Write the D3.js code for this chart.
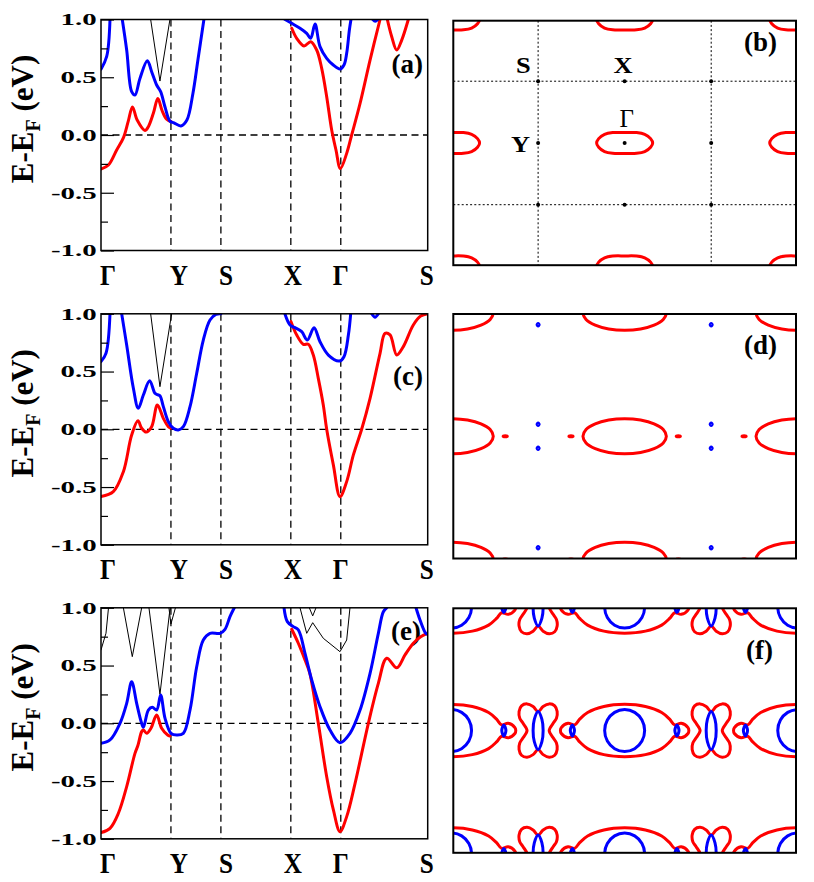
<!DOCTYPE html>
<html><head><meta charset="utf-8">
<script src="https://cdn.jsdelivr.net/npm/d3@7"></script>
<style>body{margin:0;background:#fff}svg{display:block}</style>
</head><body><svg id="c" width="814" height="882"></svg>
<script>
// ---------- DATA ----------
const kTicks = [0, 0.7, 1.2, 1.9, 2.4, 3.27];
const kLabels = ["Γ","Y","S","X","Γ","S"];
const eTicks = [-1, -0.5, 0, 0.5, 1];
const eTickLabels = ["-1.0","-0.5","0.0","0.5","1.0"];
const eMinor = [-0.75, -0.25, 0.25, 0.75];

// panel (a)
const redA1 = [[0,-0.295],[0.075,-0.26],[0.157,-0.13],[0.226,-0.02],[0.273,0.12],[0.315,0.243],[0.362,0.13],[0.44,0.04],[0.474,0.072],[0.524,0.188],[0.569,0.316],[0.612,0.21],[0.657,0.136],[0.70,0.117]];
const blueA1a = [[0,0.57],[0.057,0.68],[0.09,1.0]];
const blueA1b = [[0.213,1.0],[0.257,0.736],[0.307,0.375],[0.34,0.346],[0.39,0.49],[0.464,0.643],[0.507,0.548],[0.557,0.433],[0.597,0.375],[0.64,0.245],[0.69,0.12],[0.73,0.105],[0.80,0.078],[0.86,0.13],[0.92,0.36],[0.97,0.65],[1.03,1.0]];
const blackA1 = [[0.497,1.0],[0.59,0.467],[0.69,1.0]];
const blueA2 = [[1.842,1.0],[1.909,0.967],[1.992,0.924],[2.059,0.88],[2.099,0.837],[2.142,0.961],[2.192,0.765],[2.259,0.664],[2.325,0.606],[2.392,0.571],[2.432,0.606],[2.459,0.707],[2.486,0.909],[2.502,1.0]];
const blueA3 = [[2.72,1.0],[2.745,0.985],[2.77,1.0]];
const redA2 = [[1.909,0.924],[1.959,0.837],[2.032,0.771],[2.099,0.808],[2.159,0.736],[2.209,0.577],[2.259,0.332],[2.309,0.043],[2.352,-0.13],[2.396,-0.29],[2.459,-0.159],[2.509,0.0],[2.593,0.274],[2.693,0.649],[2.793,1.0]];
const redA3 = [[2.866,1.0],[2.91,0.851],[2.96,0.736],[3.01,0.822],[3.076,1.0]];

// panel (c)
const redC1 = [[0,-0.583],[0.123,-0.54],[0.224,-0.367],[0.307,-0.05],[0.37,0.073],[0.407,0.009],[0.452,-0.024],[0.507,0.023],[0.564,0.21],[0.624,0.095],[0.674,0.023],[0.70,0.009]];
const blueC1a = [[0,0.586],[0.05,0.658],[0.09,1.0]];
const blueC1b = [[0.207,1.0],[0.257,0.73],[0.324,0.355],[0.373,0.182],[0.424,0.297],[0.487,0.42],[0.54,0.312],[0.565,0.30],[0.59,0.29],[0.624,0.196],[0.674,0.066],[0.724,0.009],[0.774,-0.006],[0.824,0.023],[0.891,0.196],[0.958,0.485],[1.024,0.773],[1.091,0.946],[1.15,0.995],[1.2,1.0]];
const blackC1 = [[0.497,1.0],[0.59,0.369],[0.707,1.0]];
const blueC2 = [[1.842,0.996],[1.892,0.903],[1.942,0.88],[2.009,0.845],[2.065,0.773],[2.132,0.88],[2.192,0.758],[2.276,0.643],[2.386,0.591],[2.432,0.629],[2.476,0.816],[2.499,1.0]];
const blueC3 = [[2.71,1.0],[2.743,0.97],[2.776,1.0]];
const redC2 = [[1.902,0.932],[1.959,0.816],[2.025,0.736],[2.075,0.736],[2.125,0.643],[2.175,0.441],[2.225,0.21],[2.259,0.0],[2.326,-0.31],[2.392,-0.583],[2.459,-0.453],[2.526,-0.222],[2.609,0.0],[2.693,0.268],[2.793,0.658],[2.843,0.831],[2.893,0.817],[2.96,0.644],[3.026,0.716],[3.126,0.903],[3.2,0.98],[3.27,1.0]];

// panel (e)
const redE1 = [[0,-0.947],[0.09,-0.909],[0.174,-0.779],[0.257,-0.548],[0.34,-0.26],[0.37,-0.19],[0.407,-0.072],[0.424,-0.058],[0.457,-0.087],[0.50,-0.043],[0.557,0.072],[0.607,-0.043],[0.667,-0.101],[0.69,-0.11]];
const blueE1 = [[0,-0.173],[0.09,-0.144],[0.19,0.0],[0.257,0.173],[0.307,0.36],[0.357,0.173],[0.40,0.02],[0.424,-0.035],[0.474,0.115],[0.514,0.139],[0.557,0.115],[0.597,0.245],[0.641,0.043],[0.701,-0.087],[0.758,-0.101],[0.824,-0.087],[0.891,0.115],[0.958,0.49],[1.024,0.721],[1.091,0.779],[1.191,0.779],[1.241,0.814],[1.291,0.923],[1.334,1.0]];
const blackE1 = [[0,0.635],[0.05,0.78],[0.075,1.0]];
const blackE2 = [[0.224,1.0],[0.313,0.577],[0.407,1.0]];
const blackE3 = [[0.48,1.0],[0.59,0.25],[0.685,0.95],[0.695,1.0]];
const blackE4 = [[0.68,1.0],[0.70,0.86],[0.745,1.0]];
const blueE2 = [[1.832,1.0],[1.865,0.88],[1.925,0.837],[1.975,0.808],[2.042,0.606],[2.109,0.375],[2.192,0.144],[2.292,-0.058],[2.392,-0.168],[2.492,-0.087],[2.593,0.115],[2.693,0.433],[2.776,0.779],[2.826,0.966],[2.86,1.0]];
const blueE3 = [[3.153,1.0],[3.193,0.894],[3.25,0.779],[3.27,0.77]];
const redE2 = [[1.909,0.814],[1.975,0.693],[2.042,0.548],[2.09,0.433],[2.175,0.0],[2.259,-0.462],[2.326,-0.75],[2.392,-0.938],[2.459,-0.808],[2.543,-0.52],[2.676,0.0],[2.776,0.346],[2.86,0.563],[2.96,0.48],[3.043,0.592],[3.126,0.693],[3.2,0.75],[3.27,0.779]];
const blackE5 = [[1.992,1.0],[2.059,0.779],[2.119,0.871],[2.225,0.736],[2.392,0.62],[2.459,0.721],[2.492,1.0]];
const blackE6 = [[2.085,1.0],[2.119,0.93],[2.152,1.0]];

// Fermi-surface panels: k in units where Γ=(0,0), Y=(±0.5,0), X=(0,±0.5)
const kDomain = [-0.99, 0.99];
const latticeShifts = [-1, 0, 1];
const bzLines = [-0.5, 0.5];
const bzPoints = [[-0.5,0.5],[0,0.5],[0.5,0.5],[-0.5,0],[0,0],[0.5,0],[-0.5,-0.5],[0,-0.5],[0.5,-0.5]];
const bzLabels = ["S","X","Γ","Y"];
const bzLabelAt = [[-0.5,0.5],[0,0.5],[0,0],[-0.5,0]];
// first-quadrant contour points (mirrored by symmetry)
const fsB_red = [[0.162,0],[0.150,0.035],[0.116,0.070],[0.069,0.084],[0,0.085]];
const fsD_red = [[0.241,0],[0.223,0.054],[0.170,0.100],[0.092,0.131],[0,0.142]];
const fsD_redPocket = [[0.012,0],[0,0.005]];
const fsD_bluePocket = [[0.006,0],[0,0.01]];
const fsF_blueCircle = [[0.1155,0],[0.100,0.085],[0.058,0.147],[0,0.170]];
const fsF_red = [[0.371,0],[0.366,0.024],[0.327,0.059],[0.289,0.046],[0.260,0.092],[0.214,0.146],[0.120,0.195],[0,0.212]];
const fsF_blueOval = [[0.012,0],[0,0.045]];
const fsF_butterfly = [[0.064,0],[0.087,0.059],[0.106,0.100],[0.110,0.154],[0.096,0.200],[0.064,0.216],[0.029,0.195],[0,0.154]];
const fsF_lens = [[0.029,0],[0.022,0.09],[0,0.154]];
// centers relative to each Γ lattice point
const atGamma = [[0,0]];
const redPocketD_at = [[0.31,0],[-0.31,0]];
const bluePocketD_at = [[0.5,0.097],[0.5,-0.097]];
const ovalF_at = [[0.302,0],[-0.302,0]];
const atY = [[0.5,0]];

// ---------- DRAW ----------
const RED = "#ff0000", BLUE = "#0000ff";
const SERIF = "'Liberation Serif','Times New Roman',Times,serif";
const svg = d3.select("#c");

const bandsA = [
  {p:redA1,c:RED,w:3},{p:redA2,c:RED,w:3},{p:redA3,c:RED,w:3},
  {p:blackA1,c:"#000",w:1,lin:true},
  {p:blueA1a,c:BLUE,w:3},{p:blueA1b,c:BLUE,w:3},{p:blueA2,c:BLUE,w:3},{p:blueA3,c:BLUE,w:3}];
const bandsC = [
  {p:redC1,c:RED,w:3},{p:redC2,c:RED,w:3},
  {p:blackC1,c:"#000",w:1,lin:true},
  {p:blueC1a,c:BLUE,w:3},{p:blueC1b,c:BLUE,w:3},{p:blueC2,c:BLUE,w:3},{p:blueC3,c:BLUE,w:3}];
const bandsE = [
  {p:blackE1,c:"#000",w:1,lin:true},{p:blackE2,c:"#000",w:1,lin:true},{p:blackE3,c:"#000",w:1,lin:true},
  {p:blackE4,c:"#000",w:1,lin:true},{p:blackE5,c:"#000",w:1,lin:true},{p:blackE6,c:"#000",w:1,lin:true},
  {p:redE1,c:RED,w:3},{p:redE2,c:RED,w:3},
  {p:blueE1,c:BLUE,w:3},{p:blueE2,c:BLUE,w:3},{p:blueE3,c:BLUE,w:3}];

const leftPanels = [
  {top:19.5, bands:bandsA, label:"(a)", lx:423, ly:73},
  {top:313.8, bands:bandsC, label:"(c)", lx:423, ly:385},
  {top:607.8, bands:bandsE, label:"(e)", lx:421, ly:640}];
const LX0 = 101, LX1 = 427.7, LH = 231;
const labelDx = [7, 8, 5, 2, 0, -1];

leftPanels.forEach((P, i) => {
  const x = d3.scaleLinear().domain([kTicks[0], kTicks[kTicks.length-1]]).range([LX0, LX1]);
  const y = d3.scaleLinear().domain([-1, 1]).range([P.top + LH, P.top]);
  const g = svg.append("g");
  const cid = "clipL" + i;
  svg.append("clipPath").attr("id", cid).append("rect")
    .attr("x", LX0).attr("y", P.top).attr("width", LX1 - LX0).attr("height", LH);
  const dg = g.append("g").attr("clip-path", `url(#${cid})`);
  kTicks.slice(1, -1).forEach(k => {
    dg.append("line").attr("x1", x(k)).attr("x2", x(k)).attr("y1", P.top).attr("y2", P.top + LH)
      .attr("stroke", "#000").attr("stroke-width", 1.3).attr("stroke-dasharray", "7,4.5");
  });
  dg.append("line").attr("x1", LX0).attr("x2", LX1).attr("y1", y(0)).attr("y2", y(0))
    .attr("stroke", "#000").attr("stroke-width", 1.3).attr("stroke-dasharray", "7,4.5");
  g.append("text").attr("x", P.lx).attr("y", P.ly).attr("text-anchor", "end")
    .attr("font-family", SERIF).attr("font-weight", "bold").attr("font-size", 27).text(P.label);
  const bg = g.append("g").attr("clip-path", `url(#${cid})`);
  P.bands.forEach(b => {
    const line = d3.line().x(d => x(d[0])).y(d => y(d[1]))
      .curve(b.lin ? d3.curveLinear : d3.curveCatmullRom.alpha(0.5));
    bg.append("path").attr("d", line(b.p)).attr("fill", "none").attr("stroke", b.c)
      .attr("stroke-width", b.w).attr("stroke-linejoin", "round").attr("stroke-linecap", "round");
  });
  g.append("rect").attr("x", LX0).attr("y", P.top).attr("width", LX1 - LX0).attr("height", LH)
    .attr("fill", "none").attr("stroke", "#000").attr("stroke-width", 1.5);
  const ax = g.append("g").attr("transform", `translate(${LX0},0)`)
    .call(d3.axisLeft(y).tickValues(eTicks).tickSizeInner(-13).tickSizeOuter(0).tickPadding(4.3)
      .tickFormat((d, j) => eTickLabels[j]));
  ax.select(".domain").remove();
  ax.selectAll("line").attr("stroke-width", 1.2);
  ax.selectAll("text").attr("font-family", SERIF).attr("font-weight", "bold").attr("font-size", 17)
    .attr("x", -4.3 / 1.7).attr("transform", "scale(1.7,1)").attr("fill", "#000");
  const axm = g.append("g").attr("transform", `translate(${LX0},0)`)
    .call(d3.axisLeft(y).tickValues(eMinor).tickSizeInner(-7).tickSizeOuter(0).tickFormat(""));
  axm.select(".domain").remove();
  axm.selectAll("line").attr("stroke-width", 1.2);
  kTicks.forEach((k, j) => {
    g.append("text").attr("transform", `translate(${x(k) + labelDx[j]},${P.top + LH + 34}) scale(0.84,1)`)
      .attr("text-anchor", "middle").attr("font-family", SERIF).attr("font-weight", "bold")
      .attr("font-size", 30).text(kLabels[j]);
  });
  const t = g.append("text").attr("transform", `translate(33,${P.top + LH / 2 - 16}) rotate(-90)`)
    .attr("text-anchor", "middle").attr("font-family", SERIF).attr("font-weight", "bold").attr("font-size", 31);
  t.append("tspan").text("E-E");
  t.append("tspan").attr("font-size", 20).attr("dy", 7).text("F");
  t.append("tspan").attr("dy", -7).text("\u00A0(eV)");
});

// ---- right panels ----
function closeShape(q) {
  const pts = [];
  q.forEach(p => pts.push([p[0], p[1]]));
  q.slice(0, -1).reverse().forEach(p => pts.push([-p[0], p[1]]));
  q.slice(1).forEach(p => pts.push([-p[0], -p[1]]));
  q.slice(1, -1).reverse().forEach(p => pts.push([p[0], -p[1]]));
  return pts;
}
const shapesB = [{q:fsB_red, at:atGamma, c:RED}];
const shapesD = [{q:fsD_red, at:atGamma, c:RED}, {q:fsD_redPocket, at:redPocketD_at, c:RED},
                 {q:fsD_bluePocket, at:bluePocketD_at, c:BLUE}];
const shapesF = [{q:fsF_red, at:atGamma, c:RED}, {q:fsF_butterfly, at:atY, c:RED},
                 {q:fsF_blueCircle, at:atGamma, c:BLUE}, {q:fsF_blueOval, at:ovalF_at, c:BLUE},
                 {q:fsF_lens, at:atY, c:BLUE}];
const rightPanels = [
  {top:20.7, shapes:shapesB, label:"(b)", lx:777, ly:51, bz:true},
  {top:314, shapes:shapesD, label:"(d)", lx:777, ly:354},
  {top:608.3, shapes:shapesF, label:"(f)", lx:773, ly:659}];
const RX0 = 453.3, RX1 = 796, RH = 244.5;

rightPanels.forEach((P, i) => {
  const x = d3.scaleLinear().domain(kDomain).range([RX0, RX1]);
  const y = d3.scaleLinear().domain(kDomain).range([P.top + RH, P.top]);
  const g = svg.append("g");
  const cid = "clipR" + i;
  svg.append("clipPath").attr("id", cid).append("rect")
    .attr("x", RX0).attr("y", P.top).attr("width", RX1 - RX0).attr("height", RH);
  const cg = g.append("g").attr("clip-path", `url(#${cid})`);
  if (P.bz) {
    bzLines.forEach(v => {
      cg.append("line").attr("x1", x(v)).attr("x2", x(v)).attr("y1", P.top).attr("y2", P.top + RH)
        .attr("stroke", "#000").attr("stroke-width", 1).attr("stroke-dasharray", "2,2.2");
      cg.append("line").attr("x1", RX0).attr("x2", RX1).attr("y1", y(v)).attr("y2", y(v))
        .attr("stroke", "#000").attr("stroke-width", 1).attr("stroke-dasharray", "2,2.2");
    });
    bzPoints.forEach(p => {
      cg.append("circle").attr("cx", x(p[0])).attr("cy", y(p[1])).attr("r", 2).attr("fill", "#000");
    });
  }
  P.shapes.forEach(s => {
    const pts = closeShape(s.q);
    s.at.forEach(c => {
      latticeShifts.forEach(n => latticeShifts.forEach(m => {
        const cx = c[0] + n, cy = c[1] + m;
        const line = d3.line().x(d => x(d[0] + cx)).y(d => y(d[1] + cy))
          .curve(d3.curveCatmullRomClosed.alpha(0.5));
        cg.append("path").attr("d", line(pts)).attr("fill", "none").attr("stroke", s.c)
          .attr("stroke-width", 3).attr("stroke-linejoin", "round");
      }));
    });
  });
  if (P.bz) {
    const lab = (txt, k, dx, dy, anchor, bold, size, sx) => {
      g.append("text").attr("transform", `translate(${x(k[0]) + dx},${y(k[1]) + dy}) scale(${sx},1)`)
        .attr("text-anchor", anchor).attr("font-family", SERIF)
        .attr("font-weight", bold ? "bold" : "normal").attr("font-size", size).text(txt);
    };
    lab(bzLabels[0], bzLabelAt[0], -7.5, -7.8, "end", true, 23, 1.15);
    lab(bzLabels[1], bzLabelAt[1], -1.5, -7.8, "middle", true, 23, 1.15);
    lab(bzLabels[2], bzLabelAt[2], 2, -16, "middle", false, 25, 1);
    lab(bzLabels[3], bzLabelAt[3], -8, 9, "end", true, 23, 1.15);
  }
  g.append("text").attr("x", P.lx).attr("y", P.ly).attr("text-anchor", "end")
    .attr("font-family", SERIF).attr("font-weight", "bold").attr("font-size", 27).text(P.label);
  g.append("rect").attr("x", RX0).attr("y", P.top).attr("width", RX1 - RX0).attr("height", RH)
    .attr("fill", "none").attr("stroke", "#000").attr("stroke-width", 2);
});
</script></body></html>
